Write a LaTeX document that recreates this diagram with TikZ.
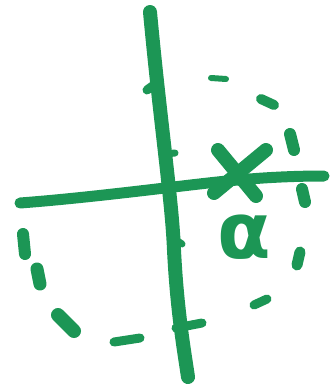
\documentclass[tikz,border=0pt]{standalone}
\usepackage{fontspec}
\newfontfamily\dejavubold{DejaVu Sans Bold}
\definecolor{marker}{RGB}{28,150,85}
\tikzset{
  pen/.style={draw=marker, line cap=round, line join=round},
  axisline/.style={pen, line width=14pt},
  dashmark/.style={pen, line width=10pt},
}
\begin{document}
\begin{tikzpicture}[x=1pt,y=-1pt]
\useasboundingbox (0,0) rectangle (331,388);
% vertical axis
\draw[axisline] (150,12) .. controls (160,120) and (172,200) .. (174,250) .. controls (177,310) and (184,350) .. (188,377);
% horizontal axis
\draw[axisline, line width=11pt] (20,203) .. controls (100,197) and (200,183) .. (238,180) .. controls (270,177) and (300,176) .. (324,176);
% small bumps on vertical axis
\draw[pen, line width=7pt] (165,154) -- (175,153);
\draw[pen, line width=7pt] (176,240) -- (182,244);
% X mark
\draw[axisline, line width=14pt] (218,150) -- (256,196);
\draw[axisline, line width=14pt] (266,150) -- (214,193);
% alpha label
\node[text=marker, font=\dejavubold\fontsize{78}{78}\selectfont, inner sep=0pt] (alpha) at (244,237) {α};
% dashed circle strokes
\draw[dashmark, line width=6pt] (211,78) -- (226,79);
\draw[dashmark, line width=10pt] (261,99) -- (274,105);
\draw[dashmark, line width=12pt] (290,134) -- (294,150);
\draw[dashmark, line width=12pt] (302,189) -- (305,202);
\draw[dashmark, line width=11pt] (300,252) -- (297,265);
\draw[dashmark, line width=9pt] (254,305) -- (267,299);
\draw[dashmark, line width=9pt] (176,328) -- (202,323);
\draw[dashmark, line width=9pt] (114,342) -- (140,338);
\draw[dashmark, line width=14pt] (58,315) -- (74,331);
\draw[dashmark, line width=13pt] (37,269) -- (40,284);
\draw[dashmark, line width=12pt] (23,234) -- (25,254);
\draw[dashmark, line width=9pt] (147,90) -- (158,82);
\end{tikzpicture}
\end{document}
